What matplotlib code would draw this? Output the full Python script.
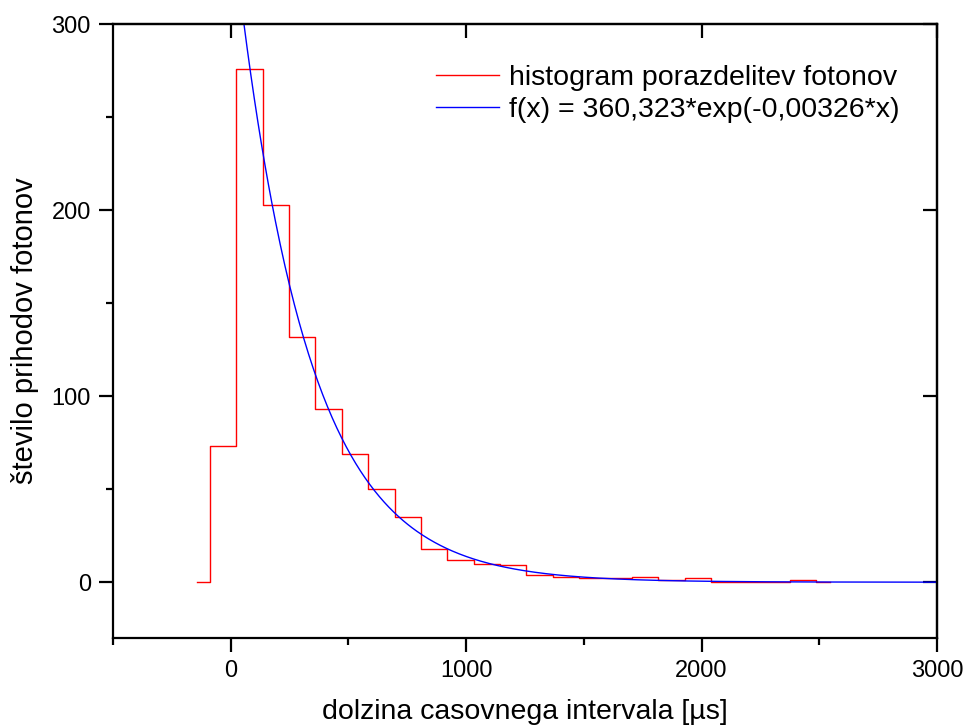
import numpy as np
import matplotlib
matplotlib.use('Agg')
import matplotlib.pyplot as plt
from matplotlib.ticker import MultipleLocator

plt.rcParams['font.family'] = ['Liberation Sans', 'DejaVu Sans']

# histogram data (bin centres in us, counts)
bin_centres = [-144, -32, 80, 192, 304, 416, 528, 640, 752, 864, 976, 1088,
               1200, 1312, 1424, 1536, 1648, 1760, 1872, 1984, 2096, 2208,
               2320, 2432, 2544]
counts = [0, 73, 276, 203, 132, 93, 69, 50, 35, 18, 12, 10, 9, 4, 3, 2, 2,
          3, 1, 2, 0, 0, 0, 1, 0]

# exponential fit parameters from the legend
fit_a = 360.323
fit_k = 0.00326

fig = plt.figure(figsize=(9.65, 7.26), dpi=100)
ax = fig.add_axes([0.1171, 0.1212, 0.8539, 0.8457])

ax.plot(bin_centres, counts, color='red', lw=1.0, drawstyle='steps-mid',
        label='histogram porazdelitev fotonov')
xf = np.linspace(0, 3000, 600)
ax.plot(xf, fit_a * np.exp(-fit_k * xf), color='blue', lw=1.0,
        label='f(x) = 360,323*exp(-0,00326*x)')

ax.set_xlim(-500, 3000)
ax.set_ylim(-30, 300)

ax.xaxis.set_major_locator(MultipleLocator(1000))
ax.xaxis.set_minor_locator(MultipleLocator(500))
ax.yaxis.set_major_locator(MultipleLocator(100))
ax.yaxis.set_minor_locator(MultipleLocator(50))

for s in ax.spines.values():
    s.set_linewidth(1.6)

ax.tick_params(which='major', direction='out', length=10, width=1.6,
               labelsize=17, pad=6)
ax.tick_params(which='minor', direction='out', length=5, width=1.6)
ax.tick_params(which='both', top=False, right=False)

# inward ticks on top and right, like the original
ax_top = ax.secondary_xaxis('top')
ax_top.xaxis.set_major_locator(MultipleLocator(1000))
ax_top.tick_params(direction='in', length=10, width=1.6, labeltop=False)
ax_top.spines['top'].set_linewidth(1.6)
ax_r = ax.secondary_yaxis('right')
ax_r.yaxis.set_major_locator(MultipleLocator(100))
ax_r.tick_params(direction='in', length=10, width=1.6, labelright=False)
ax_r.spines['right'].set_linewidth(1.6)

ax.set_xlabel('dolzina casovnega intervala [µs]', fontsize=20.5, labelpad=12)
ax.set_ylabel('število prihodov fotonov', fontsize=21, labelpad=9)

leg = ax.legend(loc='upper right', frameon=False, fontsize=20.5,
                handlelength=2.2, handletextpad=0.35, labelspacing=0.2,
                bbox_to_anchor=(0.985, 0.975))

fig.savefig('out.png', dpi=100)
